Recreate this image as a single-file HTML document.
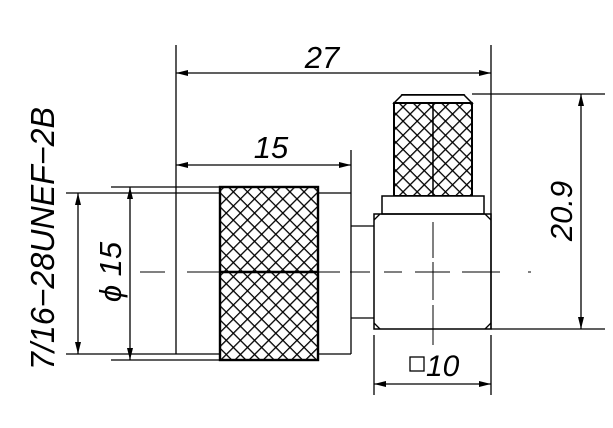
<!DOCTYPE html>
<html><head><style>html,body{margin:0;padding:0;background:#fff;}svg{display:block}</style></head>
<body>
<svg width="613" height="428" viewBox="0 0 613 428" xmlns="http://www.w3.org/2000/svg" font-family="Liberation Sans, sans-serif" font-style="italic">
<defs>
<pattern id="k" width="10" height="10" patternUnits="userSpaceOnUse" patternTransform="rotate(45)">
<rect width="10" height="10" fill="#fff"/>
<line x1="0" y1="0" x2="10" y2="0" stroke="#000" stroke-width="2.6"/>
<line x1="0" y1="0" x2="0" y2="10" stroke="#000" stroke-width="2.6"/>
</pattern>
<marker id="a" viewBox="0 0 12 6" refX="12" refY="3" markerWidth="12" markerHeight="6" orient="auto-start-reverse" markerUnits="userSpaceOnUse"><path d="M0,0 L12,3 L0,6 z" fill="#000"/></marker>
</defs>
<g stroke="#000" fill="none" stroke-width="1.3">
<path d="M140,272 H165 M187,272 H340 M350,272 H370 M384,272 H402 M415,272 H450 M462,272 H500 M528,272 H531" stroke-width="1"/>
<path d="M433,222 V258 M433,262 V300 M433,305 V345" stroke-width="1"/>
<line x1="66" y1="193" x2="220" y2="193"/>
<line x1="66" y1="354" x2="220" y2="354"/>
<line x1="111" y1="187" x2="220" y2="187"/>
<line x1="111" y1="360" x2="220" y2="360"/>
<line x1="176" y1="45" x2="176" y2="354"/>
<line x1="318" y1="193" x2="351" y2="193"/>
<line x1="318" y1="354" x2="351" y2="354"/>
<line x1="351" y1="150" x2="351" y2="354"/>
<line x1="351" y1="226" x2="374" y2="226"/>
<line x1="351" y1="318" x2="374" y2="318"/>
<line x1="78" y1="193" x2="78" y2="354" marker-start="url(#a)" marker-end="url(#a)"/>
<line x1="130" y1="187" x2="130" y2="360" marker-start="url(#a)" marker-end="url(#a)"/>
<line x1="176" y1="73" x2="491" y2="73" marker-start="url(#a)" marker-end="url(#a)"/>
<line x1="176" y1="165" x2="351" y2="165" marker-start="url(#a)" marker-end="url(#a)"/>
<line x1="491" y1="45" x2="491" y2="329"/>
<line x1="472" y1="94" x2="605" y2="94"/>
<line x1="491" y1="329" x2="605" y2="329"/>
<line x1="581" y1="94" x2="581" y2="329" marker-start="url(#a)" marker-end="url(#a)"/>
<line x1="374" y1="335" x2="374" y2="395"/>
<line x1="491" y1="335" x2="491" y2="395"/>
<line x1="374" y1="384" x2="491" y2="384" marker-start="url(#a)" marker-end="url(#a)"/>
<rect x="220" y="187" width="98" height="173" fill="url(#k)" stroke-width="2.4"/>
<line x1="220" y1="272" x2="318" y2="272" stroke-width="2.4"/>
<path d="M394,103 L402,95 H464 L472,103 V196 H394 Z" fill="url(#k)" stroke-width="2"/>
<rect x="394" y="95" width="78" height="8" fill="#fff" stroke="none"/>
<path d="M394,103 L402,95 H464 L472,103 Z" stroke-width="1.5"/>
<line x1="394" y1="103" x2="472" y2="103" stroke-width="2"/>
<line x1="433" y1="103" x2="433" y2="196" stroke-width="1.5"/>
<rect x="382" y="196" width="102" height="18" stroke-width="1.5" fill="#fff"/>
<rect x="374" y="214" width="117" height="115" stroke-width="1.5"/>
<path d="M374,220 L380,214 M485,214 L491,220 M374,323 L380,329 M485,329 L491,323" stroke-width="1.3"/>
<line x1="423" y1="272" x2="443" y2="272" stroke-width="1"/>
<rect x="410" y="357" width="14" height="14" stroke-width="1.3"/>
</g>
<g fill="#000" font-size="31">
<text x="322" y="68" text-anchor="middle">27</text>
<text x="271" y="158" text-anchor="middle">15</text>
<text x="426" y="376" font-size="30">10</text>
<text transform="translate(54,370) rotate(-90)" textLength="263" lengthAdjust="spacingAndGlyphs" font-size="33">7/16−28UNEF−2B</text>
<text transform="translate(121,272) rotate(-90)" text-anchor="middle">ϕ 15</text>
<text transform="translate(572,211) rotate(-90)" text-anchor="middle">20.9</text>
</g>
</svg>
</body></html>
